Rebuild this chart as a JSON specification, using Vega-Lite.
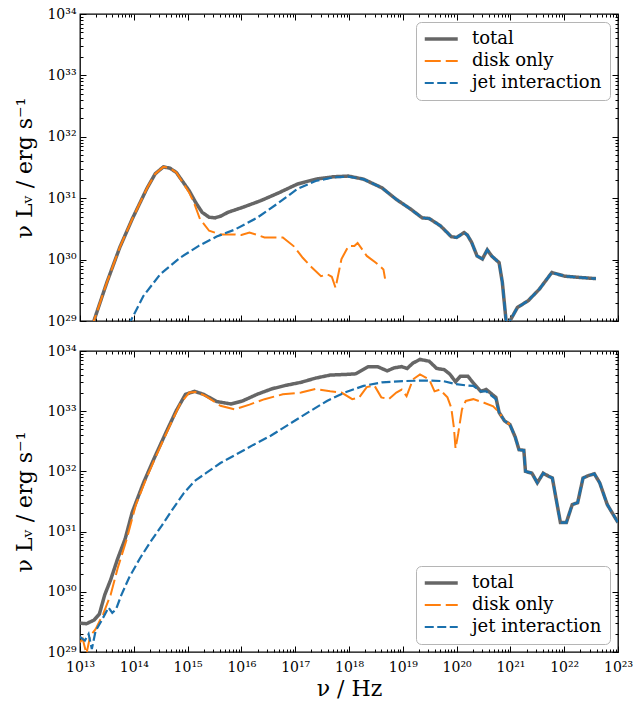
{
  "$schema": "https://vega.github.io/schema/vega-lite/v6.json",
  "background": "white",
  "padding": {"left": 13, "top": 6, "right": 1, "bottom": 5},
  "bounds": "flush",
  "spacing": 30,
  "config": {
    "view": {"stroke": "black", "strokeWidth": 1.3},
    "font": "DejaVu Serif",
    "axis": {"domain": false, "grid": false, "tickColor": "black", "tickWidth": 1, "labelFont": "DejaVu Serif", "labelFontSize": 14, "labelColor": "black", "titleFont": "DejaVu Serif", "titleFontSize": 22, "titleFontWeight": "normal", "titleColor": "black", "labelFlush": false, "labelOverlap": false, "labelBound": false},
    "legend": {"title": null, "symbolType": "M-1,0H3", "symbolSize": 272, "labelFont": "DejaVu Serif", "labelFontSize": 18, "labelColor": "black", "strokeColor": "#b5b5b5", "fillColor": "white", "cornerRadius": 5, "padding": 8, "rowPadding": 4, "labelOffset": 30, "offset": 8}
  },
  "datasets": {
    "top": [
      {"series":"total","nu":1.585e13,"L":7.08e28},{"series":"total","nu":3.162e13,"L":4.266e29},{"series":"total","nu":5.495e13,"L":1.585e30},{"series":"total","nu":9.333e13,"L":4.571e30},{"series":"total","nu":1.778e14,"L":1.479e31},{"series":"total","nu":2.512e14,"L":2.512e31},{"series":"total","nu":3.548e14,"L":3.236e31},{"series":"total","nu":4.677e14,"L":3.090e31},{"series":"total","nu":6.166e14,"L":2.630e31},{"series":"total","nu":1.072e15,"L":1.318e31},{"series":"total","nu":1.413e15,"L":8.511e30},{"series":"total","nu":1.862e15,"L":5.888e30},{"series":"total","nu":2.512e15,"L":4.898e30},{"series":"total","nu":3.236e15,"L":4.786e30},{"series":"total","nu":4.169e15,"L":5.129e30},{"series":"total","nu":5.623e15,"L":5.888e30},{"series":"total","nu":1.047e16,"L":7.079e30},{"series":"total","nu":2.291e16,"L":9.120e30},{"series":"total","nu":5.012e16,"L":1.230e31},{"series":"total","nu":1.096e17,"L":1.698e31},{"series":"total","nu":2.399e17,"L":2.042e31},{"series":"total","nu":5.248e17,"L":2.239e31},{"series":"total","nu":9.772e17,"L":2.291e31},{"series":"total","nu":1.862e18,"L":2.042e31},{"series":"total","nu":4.074e18,"L":1.479e31},{"series":"total","nu":7.586e18,"L":9.550e30},{"series":"total","nu":1.413e19,"L":6.607e30},{"series":"total","nu":2.291e19,"L":4.786e30},{"series":"total","nu":3.090e19,"L":4.677e30},{"series":"total","nu":5.012e19,"L":3.548e30},{"series":"total","nu":7.943e19,"L":2.371e30},{"series":"total","nu":1.0e20,"L":2.291e30},{"series":"total","nu":1.175e20,"L":2.512e30},{"series":"total","nu":1.380e20,"L":2.754e30},{"series":"total","nu":1.585e20,"L":2.512e30},{"series":"total","nu":1.905e20,"L":1.905e30},{"series":"total","nu":2.399e20,"L":1.148e30},{"series":"total","nu":3.020e20,"L":1.023e30},{"series":"total","nu":3.715e20,"L":1.445e30},{"series":"total","nu":4.467e20,"L":1.148e30},{"series":"total","nu":6.166e20,"L":8.913e29},{"series":"total","nu":7.079e20,"L":4.266e29},{"series":"total","nu":8.318e20,"L":1.0e29},{"series":"total","nu":8.913e20,"L":7.943e28},{"series":"total","nu":9.772e20,"L":1.0e29},{"series":"total","nu":1.349e21,"L":1.660e29},{"series":"total","nu":2.138e21,"L":2.138e29},{"series":"total","nu":3.467e21,"L":3.311e29},{"series":"total","nu":5.888e21,"L":6.166e29},{"series":"total","nu":1.023e22,"L":5.370e29},{"series":"total","nu":1.905e22,"L":5.129e29},{"series":"total","nu":3.890e22,"L":4.898e29},
      {"series":"disk only","nu":1.585e13,"L":7.08e28},{"series":"disk only","nu":3.162e13,"L":4.266e29},{"series":"disk only","nu":5.495e13,"L":1.585e30},{"series":"disk only","nu":9.333e13,"L":4.571e30},{"series":"disk only","nu":1.778e14,"L":1.479e31},{"series":"disk only","nu":2.512e14,"L":2.512e31},{"series":"disk only","nu":3.548e14,"L":3.236e31},{"series":"disk only","nu":4.677e14,"L":3.090e31},{"series":"disk only","nu":6.166e14,"L":2.630e31},{"series":"disk only","nu":1.072e15,"L":1.230e31},{"series":"disk only","nu":1.349e15,"L":7.943e30},{"series":"disk only","nu":1.698e15,"L":4.571e30},{"series":"disk only","nu":2.512e15,"L":2.951e30},{"series":"disk only","nu":4.074e15,"L":2.570e30},{"series":"disk only","nu":7.586e15,"L":2.570e30},{"series":"disk only","nu":1.0e16,"L":2.512e30},{"series":"disk only","nu":1.413e16,"L":2.754e30},{"series":"disk only","nu":1.995e16,"L":2.512e30},{"series":"disk only","nu":2.692e16,"L":2.291e30},{"series":"disk only","nu":5.888e16,"L":2.291e30},{"series":"disk only","nu":9.333e16,"L":1.660e30},{"series":"disk only","nu":1.380e17,"L":1.072e30},{"series":"disk only","nu":2.042e17,"L":7.413e29},{"series":"disk only","nu":3.020e17,"L":5.370e29},{"series":"disk only","nu":3.981e17,"L":5.754e29},{"series":"disk only","nu":4.786e17,"L":5.248e29},{"series":"disk only","nu":5.623e17,"L":3.467e29},{"series":"disk only","nu":7.244e17,"L":1.023e30},{"series":"disk only","nu":9.772e17,"L":1.660e30},{"series":"disk only","nu":1.259e18,"L":1.660e30},{"series":"disk only","nu":1.445e18,"L":1.862e30},{"series":"disk only","nu":2.138e18,"L":1.148e30},{"series":"disk only","nu":3.162e18,"L":8.913e29},{"series":"disk only","nu":4.365e18,"L":6.918e29},{"series":"disk only","nu":4.677e18,"L":4.898e29},
      {"series":"jet interaction","nu":7.943e13,"L":8.511e28},{"series":"jet interaction","nu":1.514e14,"L":2.570e29},{"series":"jet interaction","nu":3.090e14,"L":5.754e29},{"series":"jet interaction","nu":7.244e14,"L":1.072e30},{"series":"jet interaction","nu":1.585e15,"L":1.660e30},{"series":"jet interaction","nu":3.467e15,"L":2.371e30},{"series":"jet interaction","nu":7.586e15,"L":3.090e30},{"series":"jet interaction","nu":1.950e16,"L":4.786e30},{"series":"jet interaction","nu":5.012e16,"L":8.511e30},{"series":"jet interaction","nu":1.096e17,"L":1.413e31},{"series":"jet interaction","nu":2.399e17,"L":1.905e31},{"series":"jet interaction","nu":5.248e17,"L":2.188e31},{"series":"jet interaction","nu":9.772e17,"L":2.239e31},{"series":"jet interaction","nu":1.862e18,"L":2.042e31},{"series":"jet interaction","nu":4.074e18,"L":1.479e31},{"series":"jet interaction","nu":7.586e18,"L":9.550e30},{"series":"jet interaction","nu":1.413e19,"L":6.607e30},{"series":"jet interaction","nu":2.291e19,"L":4.786e30},{"series":"jet interaction","nu":3.090e19,"L":4.677e30},{"series":"jet interaction","nu":5.012e19,"L":3.548e30},{"series":"jet interaction","nu":7.943e19,"L":2.371e30},{"series":"jet interaction","nu":1.0e20,"L":2.291e30},{"series":"jet interaction","nu":1.175e20,"L":2.512e30},{"series":"jet interaction","nu":1.380e20,"L":2.754e30},{"series":"jet interaction","nu":1.585e20,"L":2.512e30},{"series":"jet interaction","nu":1.905e20,"L":1.905e30},{"series":"jet interaction","nu":2.399e20,"L":1.148e30},{"series":"jet interaction","nu":3.020e20,"L":1.023e30},{"series":"jet interaction","nu":3.715e20,"L":1.445e30},{"series":"jet interaction","nu":4.467e20,"L":1.148e30},{"series":"jet interaction","nu":6.166e20,"L":8.913e29},{"series":"jet interaction","nu":7.079e20,"L":4.266e29},{"series":"jet interaction","nu":8.318e20,"L":1.0e29},{"series":"jet interaction","nu":8.913e20,"L":7.943e28},{"series":"jet interaction","nu":9.772e20,"L":1.0e29},{"series":"jet interaction","nu":1.349e21,"L":1.660e29},{"series":"jet interaction","nu":2.138e21,"L":2.138e29},{"series":"jet interaction","nu":3.467e21,"L":3.311e29},{"series":"jet interaction","nu":5.888e21,"L":6.166e29},{"series":"jet interaction","nu":1.023e22,"L":5.370e29},{"series":"jet interaction","nu":1.905e22,"L":5.129e29},{"series":"jet interaction","nu":3.890e22,"L":4.898e29}
    ],
    "bottom": [
      {"series":"total","nu":1.0e13,"L":3.020e29},{"series":"total","nu":1.318e13,"L":2.951e29},{"series":"total","nu":1.820e13,"L":3.388e29},{"series":"total","nu":2.291e13,"L":4.266e29},{"series":"total","nu":2.884e13,"L":8.913e29},{"series":"total","nu":3.715e13,"L":1.585e30},{"series":"total","nu":5.012e13,"L":3.548e30},{"series":"total","nu":6.918e13,"L":7.586e30},{"series":"total","nu":9.333e13,"L":2.089e31},{"series":"total","nu":1.514e14,"L":6.457e31},{"series":"total","nu":2.399e14,"L":1.660e32},{"series":"total","nu":3.890e14,"L":4.266e32},{"series":"total","nu":6.166e14,"L":1.023e33},{"series":"total","nu":9.120e14,"L":1.905e33},{"series":"total","nu":1.349e15,"L":2.138e33},{"series":"total","nu":1.995e15,"L":1.905e33},{"series":"total","nu":3.467e15,"L":1.445e33},{"series":"total","nu":6.457e15,"L":1.318e33},{"series":"total","nu":1.047e16,"L":1.479e33},{"series":"total","nu":1.950e16,"L":1.905e33},{"series":"total","nu":3.631e16,"L":2.344e33},{"series":"total","nu":6.761e16,"L":2.692e33},{"series":"total","nu":1.288e17,"L":3.020e33},{"series":"total","nu":2.399e17,"L":3.548e33},{"series":"total","nu":4.467e17,"L":3.981e33},{"series":"total","nu":8.318e17,"L":4.074e33},{"series":"total","nu":1.318e18,"L":4.169e33},{"series":"total","nu":2.291e18,"L":5.495e33},{"series":"total","nu":3.388e18,"L":5.495e33},{"series":"total","nu":5.129e18,"L":4.677e33},{"series":"total","nu":6.918e18,"L":5.248e33},{"series":"total","nu":9.550e18,"L":5.495e33},{"series":"total","nu":1.202e19,"L":5.129e33},{"series":"total","nu":1.549e19,"L":6.310e33},{"series":"total","nu":2.089e19,"L":7.244e33},{"series":"total","nu":3.090e19,"L":6.761e33},{"series":"total","nu":4.266e19,"L":5.129e33},{"series":"total","nu":5.888e19,"L":4.898e33},{"series":"total","nu":7.413e19,"L":4.169e33},{"series":"total","nu":9.550e19,"L":3.090e33},{"series":"total","nu":1.175e20,"L":3.802e33},{"series":"total","nu":1.622e20,"L":3.802e33},{"series":"total","nu":2.042e20,"L":2.951e33},{"series":"total","nu":2.818e20,"L":2.138e33},{"series":"total","nu":3.548e20,"L":2.291e33},{"series":"total","nu":5.370e20,"L":1.698e33},{"series":"total","nu":6.166e20,"L":9.550e32},{"series":"total","nu":7.762e20,"L":6.918e32},{"series":"total","nu":9.772e20,"L":6.026e32},{"series":"total","nu":1.230e21,"L":3.715e32},{"series":"total","nu":1.445e21,"L":2.291e32},{"series":"total","nu":1.778e21,"L":2.239e32},{"series":"total","nu":1.905e21,"L":1.0e32},{"series":"total","nu":2.512e21,"L":9.333e31},{"series":"total","nu":3.162e21,"L":6.457e31},{"series":"total","nu":4.074e21,"L":9.333e31},{"series":"total","nu":5.129e21,"L":8.318e31},{"series":"total","nu":6.026e21,"L":7.762e31},{"series":"total","nu":6.918e21,"L":3.890e31},{"series":"total","nu":8.511e21,"L":1.413e31},{"series":"total","nu":1.096e22,"L":1.413e31},{"series":"total","nu":1.413e22,"L":2.818e31},{"series":"total","nu":1.778e22,"L":3.020e31},{"series":"total","nu":2.239e22,"L":7.762e31},{"series":"total","nu":2.818e22,"L":8.511e31},{"series":"total","nu":3.631e22,"L":9.120e31},{"series":"total","nu":4.571e22,"L":6.457e31},{"series":"total","nu":6.310e22,"L":2.818e31},{"series":"total","nu":1.0e23,"L":1.413e31},
      {"series":"disk only","nu":1.0e13,"L":1.445e29},{"series":"disk only","nu":1.122e13,"L":1.660e29},{"series":"disk only","nu":1.318e13,"L":9.333e28},{"series":"disk only","nu":1.549e13,"L":1.862e29},{"series":"disk only","nu":1.950e13,"L":2.399e29},{"series":"disk only","nu":2.692e13,"L":4.266e29},{"series":"disk only","nu":3.715e13,"L":8.913e29},{"series":"disk only","nu":5.012e13,"L":2.455e30},{"series":"disk only","nu":7.413e13,"L":7.586e30},{"series":"disk only","nu":1.096e14,"L":2.818e31},{"series":"disk only","nu":1.778e14,"L":8.318e31},{"series":"disk only","nu":2.818e14,"L":2.138e32},{"series":"disk only","nu":4.571e14,"L":5.495e32},{"series":"disk only","nu":7.244e14,"L":1.318e33},{"series":"disk only","nu":1.072e15,"L":2.042e33},{"series":"disk only","nu":1.479e15,"L":2.089e33},{"series":"disk only","nu":2.188e15,"L":1.778e33},{"series":"disk only","nu":4.074e15,"L":1.230e33},{"series":"disk only","nu":7.586e15,"L":1.072e33},{"series":"disk only","nu":1.413e16,"L":1.288e33},{"series":"disk only","nu":2.692e16,"L":1.585e33},{"series":"disk only","nu":5.888e16,"L":1.905e33},{"series":"disk only","nu":1.288e17,"L":2.042e33},{"series":"disk only","nu":2.399e17,"L":2.344e33},{"series":"disk only","nu":4.467e17,"L":2.138e33},{"series":"disk only","nu":7.244e17,"L":2.042e33},{"series":"disk only","nu":1.148e18,"L":1.585e33},{"series":"disk only","nu":1.549e18,"L":1.698e33},{"series":"disk only","nu":2.138e18,"L":2.512e33},{"series":"disk only","nu":2.951e18,"L":2.692e33},{"series":"disk only","nu":3.981e18,"L":1.698e33},{"series":"disk only","nu":5.495e18,"L":1.585e33},{"series":"disk only","nu":7.586e18,"L":2.042e33},{"series":"disk only","nu":9.550e18,"L":2.291e33},{"series":"disk only","nu":1.175e19,"L":1.778e33},{"series":"disk only","nu":1.549e19,"L":3.388e33},{"series":"disk only","nu":2.089e19,"L":4.074e33},{"series":"disk only","nu":3.090e19,"L":3.388e33},{"series":"disk only","nu":3.890e19,"L":2.138e33},{"series":"disk only","nu":4.898e19,"L":2.291e33},{"series":"disk only","nu":6.761e19,"L":1.698e33},{"series":"disk only","nu":7.943e19,"L":1.148e33},{"series":"disk only","nu":8.913e19,"L":5.370e32},{"series":"disk only","nu":9.550e19,"L":2.399e32},{"series":"disk only","nu":1.072e20,"L":4.266e32},{"series":"disk only","nu":1.259e20,"L":1.072e33},{"series":"disk only","nu":1.479e20,"L":1.479e33},{"series":"disk only","nu":2.042e20,"L":1.585e33},{"series":"disk only","nu":3.236e20,"L":1.380e33},{"series":"disk only","nu":4.786e20,"L":1.202e33},{"series":"disk only","nu":6.166e20,"L":9.550e32},{"series":"disk only","nu":7.762e20,"L":6.918e32},{"series":"disk only","nu":9.772e20,"L":6.026e32},
      {"series":"jet interaction","nu":1.0e13,"L":1.778e29},{"series":"jet interaction","nu":1.230e13,"L":1.549e29},{"series":"jet interaction","nu":1.445e13,"L":1.995e29},{"series":"jet interaction","nu":1.660e13,"L":1.122e29},{"series":"jet interaction","nu":1.950e13,"L":2.239e29},{"series":"jet interaction","nu":2.512e13,"L":3.311e29},{"series":"jet interaction","nu":3.388e13,"L":5.495e29},{"series":"jet interaction","nu":3.981e13,"L":4.467e29},{"series":"jet interaction","nu":4.677e13,"L":5.129e29},{"series":"jet interaction","nu":5.888e13,"L":8.913e29},{"series":"jet interaction","nu":8.128e13,"L":1.698e30},{"series":"jet interaction","nu":1.288e14,"L":3.548e30},{"series":"jet interaction","nu":2.042e14,"L":6.761e30},{"series":"jet interaction","nu":3.311e14,"L":1.259e31},{"series":"jet interaction","nu":5.248e14,"L":2.344e31},{"series":"jet interaction","nu":8.511e14,"L":4.365e31},{"series":"jet interaction","nu":1.349e15,"L":6.918e31},{"series":"jet interaction","nu":2.188e15,"L":9.333e31},{"series":"jet interaction","nu":4.074e15,"L":1.380e32},{"series":"jet interaction","nu":7.586e15,"L":1.862e32},{"series":"jet interaction","nu":1.660e16,"L":2.754e32},{"series":"jet interaction","nu":3.631e16,"L":3.981e32},{"series":"jet interaction","nu":7.943e16,"L":6.166e32},{"series":"jet interaction","nu":1.738e17,"L":9.550e32},{"series":"jet interaction","nu":3.890e17,"L":1.479e33},{"series":"jet interaction","nu":8.318e17,"L":2.042e33},{"series":"jet interaction","nu":1.862e18,"L":2.630e33},{"series":"jet interaction","nu":4.074e18,"L":3.020e33},{"series":"jet interaction","nu":1.0e19,"L":3.162e33},{"series":"jet interaction","nu":2.570e19,"L":3.236e33},{"series":"jet interaction","nu":5.623e19,"L":3.162e33},{"series":"jet interaction","nu":9.772e19,"L":2.818e33},{"series":"jet interaction","nu":1.479e20,"L":2.692e33},{"series":"jet interaction","nu":2.042e20,"L":2.630e33},{"series":"jet interaction","nu":2.818e20,"L":2.138e33},{"series":"jet interaction","nu":3.548e20,"L":2.138e33},{"series":"jet interaction","nu":5.370e20,"L":1.585e33},{"series":"jet interaction","nu":6.166e20,"L":9.550e32},{"series":"jet interaction","nu":7.762e20,"L":6.918e32},{"series":"jet interaction","nu":9.772e20,"L":6.026e32},{"series":"jet interaction","nu":1.230e21,"L":3.715e32},{"series":"jet interaction","nu":1.445e21,"L":2.291e32},{"series":"jet interaction","nu":1.778e21,"L":2.239e32},{"series":"jet interaction","nu":1.905e21,"L":1.0e32},{"series":"jet interaction","nu":2.512e21,"L":9.333e31},{"series":"jet interaction","nu":3.162e21,"L":6.457e31},{"series":"jet interaction","nu":4.074e21,"L":9.333e31},{"series":"jet interaction","nu":5.129e21,"L":8.318e31},{"series":"jet interaction","nu":6.026e21,"L":7.762e31},{"series":"jet interaction","nu":6.918e21,"L":3.890e31},{"series":"jet interaction","nu":8.511e21,"L":1.413e31},{"series":"jet interaction","nu":1.096e22,"L":1.413e31},{"series":"jet interaction","nu":1.413e22,"L":2.818e31},{"series":"jet interaction","nu":1.778e22,"L":3.020e31},{"series":"jet interaction","nu":2.239e22,"L":7.762e31},{"series":"jet interaction","nu":2.818e22,"L":8.511e31},{"series":"jet interaction","nu":3.631e22,"L":9.120e31},{"series":"jet interaction","nu":4.571e22,"L":6.457e31},{"series":"jet interaction","nu":6.310e22,"L":2.818e31},{"series":"jet interaction","nu":1.0e23,"L":1.413e31}
    ]
  },
  "resolve": {"scale": {"color": "independent", "strokeDash": "independent"}, "legend": {"color": "independent", "strokeDash": "independent"}},
  "vconcat": [
    {
      "width": 538, "height": 307,
      "data": {"name": "top"},
      "resolve": {"axis": {"x": "independent", "y": "independent"}},
      "layer": [
        {
          "transform": [{"filter": "datum.series === 'total'"}],
          "mark": {"type": "line", "strokeOpacity": 0, "clip": true},
          "encoding": {
            "x": {"field": "nu", "type": "quantitative", "scale": {"type": "log", "domain": [1e13, 1e23], "nice": false}, "axis": {"orient": "top", "title": null, "labels": false, "tickSize": -3, "values": [2e13,3e13,4e13,5e13,6e13,7e13,8e13,9e13,2e14,3e14,4e14,5e14,6e14,7e14,8e14,9e14,2e15,3e15,4e15,5e15,6e15,7e15,8e15,9e15,2e16,3e16,4e16,5e16,6e16,7e16,8e16,9e16,2e17,3e17,4e17,5e17,6e17,7e17,8e17,9e17,2e18,3e18,4e18,5e18,6e18,7e18,8e18,9e18,2e19,3e19,4e19,5e19,6e19,7e19,8e19,9e19,2e20,3e20,4e20,5e20,6e20,7e20,8e20,9e20,2e21,3e21,4e21,5e21,6e21,7e21,8e21,9e21,2e22,3e22,4e22,5e22,6e22,7e22,8e22,9e22]}},
            "y": {"field": "L", "type": "quantitative", "scale": {"type": "log", "domain": [1e29, 1e34], "nice": false}, "axis": {"orient": "right", "title": null, "labels": false, "tickSize": -3, "values": [2e29,3e29,4e29,5e29,6e29,7e29,8e29,9e29,2e30,3e30,4e30,5e30,6e30,7e30,8e30,9e30,2e31,3e31,4e31,5e31,6e31,7e31,8e31,9e31,2e32,3e32,4e32,5e32,6e32,7e32,8e32,9e32,2e33,3e33,4e33,5e33,6e33,7e33,8e33,9e33]}}
          }
        },
        {
          "transform": [{"filter": "datum.series === 'total'"}],
          "mark": {"type": "line", "clip": true, "strokeWidth": 3.5},
          "encoding": {
            "x": {"field": "nu", "type": "quantitative", "scale": {"type": "log", "domain": [1e13, 1e23], "nice": false}, "axis": {"orient": "bottom", "title": null, "labels": false, "tickSize": -6, "values": [1e13,1e14,1e15,1e16,1e17,1e18,1e19,1e20,1e21,1e22,1e23]}},
            "y": {"field": "L", "type": "quantitative", "scale": {"type": "log", "domain": [1e29, 1e34], "nice": false}, "axis": {"orient": "left", "title": "ν Lᵥ / erg s⁻¹", "titlePadding": 10, "tickSize": -6, "labelPadding": 10, "values": [1e29,1e30,1e31,1e32,1e33,1e34], "labelExpr": "'10' + ['⁰','¹','²','³','⁴','⁵','⁶','⁷','⁸','⁹'][floor(round(log(datum.value)/LN10)/10)] + ['⁰','¹','²','³','⁴','⁵','⁶','⁷','⁸','⁹'][round(log(datum.value)/LN10)%10]"}},
            "color": {"field": "series", "type": "nominal", "scale": {"domain": ["total", "disk only", "jet interaction"], "range": ["#666666", "#ff7f0e", "#1a70ad"]}, "legend": {"orient": "top-right", "encode": {"symbols": {"update": {"strokeWidth": {"signal": "datum.value === 'total' ? 3.5 : 2.2"}}}}}},
            "strokeDash": {"field": "series", "type": "nominal", "scale": {"domain": ["total", "disk only", "jet interaction"], "range": [[1, 0], [16, 5], [9, 3.5]]}}
          }
        },
        {
          "transform": [{"filter": "datum.series === 'disk only'"}],
          "mark": {"type": "line", "clip": true, "strokeWidth": 2},
          "encoding": {
            "x": {"field": "nu", "type": "quantitative", "scale": {"type": "log", "domain": [1e13, 1e23], "nice": false}, "axis": {"orient": "bottom", "title": null, "labels": false, "tickSize": -3, "values": [2e13,3e13,4e13,5e13,6e13,7e13,8e13,9e13,2e14,3e14,4e14,5e14,6e14,7e14,8e14,9e14,2e15,3e15,4e15,5e15,6e15,7e15,8e15,9e15,2e16,3e16,4e16,5e16,6e16,7e16,8e16,9e16,2e17,3e17,4e17,5e17,6e17,7e17,8e17,9e17,2e18,3e18,4e18,5e18,6e18,7e18,8e18,9e18,2e19,3e19,4e19,5e19,6e19,7e19,8e19,9e19,2e20,3e20,4e20,5e20,6e20,7e20,8e20,9e20,2e21,3e21,4e21,5e21,6e21,7e21,8e21,9e21,2e22,3e22,4e22,5e22,6e22,7e22,8e22,9e22]}},
            "y": {"field": "L", "type": "quantitative", "scale": {"type": "log", "domain": [1e29, 1e34], "nice": false}, "axis": {"orient": "left", "title": null, "labels": false, "tickSize": -3, "values": [2e29,3e29,4e29,5e29,6e29,7e29,8e29,9e29,2e30,3e30,4e30,5e30,6e30,7e30,8e30,9e30,2e31,3e31,4e31,5e31,6e31,7e31,8e31,9e31,2e32,3e32,4e32,5e32,6e32,7e32,8e32,9e32,2e33,3e33,4e33,5e33,6e33,7e33,8e33,9e33]}},
            "color": {"field": "series", "type": "nominal", "scale": {"domain": ["total", "disk only", "jet interaction"], "range": ["#666666", "#ff7f0e", "#1a70ad"]}},
            "strokeDash": {"field": "series", "type": "nominal", "scale": {"domain": ["total", "disk only", "jet interaction"], "range": [[1, 0], [16, 5], [9, 3.5]]}}
          }
        },
        {
          "transform": [{"filter": "datum.series === 'jet interaction'"}],
          "mark": {"type": "line", "clip": true, "strokeWidth": 2.2},
          "encoding": {
            "x": {"field": "nu", "type": "quantitative", "scale": {"type": "log", "domain": [1e13, 1e23], "nice": false}, "axis": {"orient": "top", "title": null, "labels": false, "tickSize": -6, "values": [1e13,1e14,1e15,1e16,1e17,1e18,1e19,1e20,1e21,1e22,1e23]}},
            "y": {"field": "L", "type": "quantitative", "scale": {"type": "log", "domain": [1e29, 1e34], "nice": false}, "axis": {"orient": "right", "title": null, "labels": false, "tickSize": -6, "values": [1e29,1e30,1e31,1e32,1e33,1e34]}},
            "color": {"field": "series", "type": "nominal", "scale": {"domain": ["total", "disk only", "jet interaction"], "range": ["#666666", "#ff7f0e", "#1a70ad"]}},
            "strokeDash": {"field": "series", "type": "nominal", "scale": {"domain": ["total", "disk only", "jet interaction"], "range": [[1, 0], [16, 5], [9, 3.5]]}}
          }
        }
      ]
    },
    {
      "width": 538, "height": 301,
      "data": {"name": "bottom"},
      "resolve": {"axis": {"x": "independent", "y": "independent"}},
      "layer": [
        {
          "transform": [{"filter": "datum.series === 'total'"}],
          "mark": {"type": "line", "strokeOpacity": 0, "clip": true},
          "encoding": {
            "x": {"field": "nu", "type": "quantitative", "scale": {"type": "log", "domain": [1e13, 1e23], "nice": false}, "axis": {"orient": "top", "title": null, "labels": false, "tickSize": -3, "values": [2e13,3e13,4e13,5e13,6e13,7e13,8e13,9e13,2e14,3e14,4e14,5e14,6e14,7e14,8e14,9e14,2e15,3e15,4e15,5e15,6e15,7e15,8e15,9e15,2e16,3e16,4e16,5e16,6e16,7e16,8e16,9e16,2e17,3e17,4e17,5e17,6e17,7e17,8e17,9e17,2e18,3e18,4e18,5e18,6e18,7e18,8e18,9e18,2e19,3e19,4e19,5e19,6e19,7e19,8e19,9e19,2e20,3e20,4e20,5e20,6e20,7e20,8e20,9e20,2e21,3e21,4e21,5e21,6e21,7e21,8e21,9e21,2e22,3e22,4e22,5e22,6e22,7e22,8e22,9e22]}},
            "y": {"field": "L", "type": "quantitative", "scale": {"type": "log", "domain": [1e29, 1e34], "nice": false}, "axis": {"orient": "right", "title": null, "labels": false, "tickSize": -3, "values": [2e29,3e29,4e29,5e29,6e29,7e29,8e29,9e29,2e30,3e30,4e30,5e30,6e30,7e30,8e30,9e30,2e31,3e31,4e31,5e31,6e31,7e31,8e31,9e31,2e32,3e32,4e32,5e32,6e32,7e32,8e32,9e32,2e33,3e33,4e33,5e33,6e33,7e33,8e33,9e33]}}
          }
        },
        {
          "transform": [{"filter": "datum.series === 'total'"}],
          "mark": {"type": "line", "clip": true, "strokeWidth": 3.5},
          "encoding": {
            "x": {"field": "nu", "type": "quantitative", "scale": {"type": "log", "domain": [1e13, 1e23], "nice": false}, "axis": {"orient": "bottom", "title": "ν / Hz", "titlePadding": 4, "tickSize": -6, "labelPadding": 14, "values": [1e13,1e14,1e15,1e16,1e17,1e18,1e19,1e20,1e21,1e22,1e23], "labelExpr": "'10' + ['⁰','¹','²','³','⁴','⁵','⁶','⁷','⁸','⁹'][floor(round(log(datum.value)/LN10)/10)] + ['⁰','¹','²','³','⁴','⁵','⁶','⁷','⁸','⁹'][round(log(datum.value)/LN10)%10]"}},
            "y": {"field": "L", "type": "quantitative", "scale": {"type": "log", "domain": [1e29, 1e34], "nice": false}, "axis": {"orient": "left", "title": "ν Lᵥ / erg s⁻¹", "titlePadding": 10, "tickSize": -6, "labelPadding": 10, "values": [1e29,1e30,1e31,1e32,1e33,1e34], "labelExpr": "'10' + ['⁰','¹','²','³','⁴','⁵','⁶','⁷','⁸','⁹'][floor(round(log(datum.value)/LN10)/10)] + ['⁰','¹','²','³','⁴','⁵','⁶','⁷','⁸','⁹'][round(log(datum.value)/LN10)%10]"}},
            "color": {"field": "series", "type": "nominal", "scale": {"domain": ["total", "disk only", "jet interaction"], "range": ["#666666", "#ff7f0e", "#1a70ad"]}, "legend": {"orient": "bottom-right", "encode": {"symbols": {"update": {"strokeWidth": {"signal": "datum.value === 'total' ? 3.5 : 2.2"}}}}}},
            "strokeDash": {"field": "series", "type": "nominal", "scale": {"domain": ["total", "disk only", "jet interaction"], "range": [[1, 0], [16, 5], [9, 3.5]]}}
          }
        },
        {
          "transform": [{"filter": "datum.series === 'disk only'"}],
          "mark": {"type": "line", "clip": true, "strokeWidth": 2},
          "encoding": {
            "x": {"field": "nu", "type": "quantitative", "scale": {"type": "log", "domain": [1e13, 1e23], "nice": false}, "axis": {"orient": "bottom", "title": null, "labels": false, "tickSize": -3, "values": [2e13,3e13,4e13,5e13,6e13,7e13,8e13,9e13,2e14,3e14,4e14,5e14,6e14,7e14,8e14,9e14,2e15,3e15,4e15,5e15,6e15,7e15,8e15,9e15,2e16,3e16,4e16,5e16,6e16,7e16,8e16,9e16,2e17,3e17,4e17,5e17,6e17,7e17,8e17,9e17,2e18,3e18,4e18,5e18,6e18,7e18,8e18,9e18,2e19,3e19,4e19,5e19,6e19,7e19,8e19,9e19,2e20,3e20,4e20,5e20,6e20,7e20,8e20,9e20,2e21,3e21,4e21,5e21,6e21,7e21,8e21,9e21,2e22,3e22,4e22,5e22,6e22,7e22,8e22,9e22]}},
            "y": {"field": "L", "type": "quantitative", "scale": {"type": "log", "domain": [1e29, 1e34], "nice": false}, "axis": {"orient": "left", "title": null, "labels": false, "tickSize": -3, "values": [2e29,3e29,4e29,5e29,6e29,7e29,8e29,9e29,2e30,3e30,4e30,5e30,6e30,7e30,8e30,9e30,2e31,3e31,4e31,5e31,6e31,7e31,8e31,9e31,2e32,3e32,4e32,5e32,6e32,7e32,8e32,9e32,2e33,3e33,4e33,5e33,6e33,7e33,8e33,9e33]}},
            "color": {"field": "series", "type": "nominal", "scale": {"domain": ["total", "disk only", "jet interaction"], "range": ["#666666", "#ff7f0e", "#1a70ad"]}},
            "strokeDash": {"field": "series", "type": "nominal", "scale": {"domain": ["total", "disk only", "jet interaction"], "range": [[1, 0], [16, 5], [9, 3.5]]}}
          }
        },
        {
          "transform": [{"filter": "datum.series === 'jet interaction'"}],
          "mark": {"type": "line", "clip": true, "strokeWidth": 2.2},
          "encoding": {
            "x": {"field": "nu", "type": "quantitative", "scale": {"type": "log", "domain": [1e13, 1e23], "nice": false}, "axis": {"orient": "top", "title": null, "labels": false, "tickSize": -6, "values": [1e13,1e14,1e15,1e16,1e17,1e18,1e19,1e20,1e21,1e22,1e23]}},
            "y": {"field": "L", "type": "quantitative", "scale": {"type": "log", "domain": [1e29, 1e34], "nice": false}, "axis": {"orient": "right", "title": null, "labels": false, "tickSize": -6, "values": [1e29,1e30,1e31,1e32,1e33,1e34]}},
            "color": {"field": "series", "type": "nominal", "scale": {"domain": ["total", "disk only", "jet interaction"], "range": ["#666666", "#ff7f0e", "#1a70ad"]}},
            "strokeDash": {"field": "series", "type": "nominal", "scale": {"domain": ["total", "disk only", "jet interaction"], "range": [[1, 0], [16, 5], [9, 3.5]]}}
          }
        }
      ]
    }
  ]
}
